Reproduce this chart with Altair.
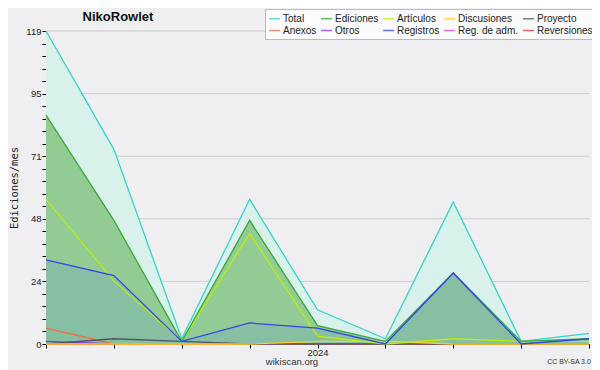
import altair as alt
import pandas as pd

months = [0, 1, 2, 3, 4, 5, 6, 7, 8]
series_names = ["Total", "Ediciones", "Artículos", "Discusiones", "Proyecto",
                "Anexos", "Otros", "Registros", "Reg. de adm.", "Reversiones"]
series_colors = ["#35d3c8", "#3aa83a", "#b8ee10", "#ffcc22", "#555560",
                 "#ee7040", "#8833ee", "#3344ee", "#dd44dd", "#ee3333"]

total = [119, 74, 2, 55, 13, 2, 54, 1, 4]
ediciones = [87, 47, 1, 47, 7, 1, 27, 1, 2]
articulos = [55, 24, 1, 42, 3, 0, 2, 1, 1]
discusiones = [0, 0, 0, 0, 1, 1, 0, 0, 0]
proyecto = [0, 2, 1, 0, 0, 0, 0, 0, 0]
anexos = [6, 0, 0, 0, 0, 0, 0, 0, 0]
otros = [1, 0, 0, 0, 0, 0, 0, 0, 0]
registros = [32, 26, 1, 8, 6, 0, 27, 0, 2]
reg_adm = [0, 0, 0, 0, 0, 0, 0, 0, 0]
reversiones = [0, 0, 0, 0, 0, 0, 0, 0, 0]

values_by_series = [total, ediciones, articulos, discusiones, proyecto,
                    anexos, otros, registros, reg_adm, reversiones]

y_max = 119
major_ticks = [0, 23.8, 47.6, 71.4, 95.2, 119]
minor_ticks = [round(y_max * k / 25, 3) for k in range(26)]

draw_order = ["Reversiones", "Reg. de adm.", "Otros", "Anexos", "Proyecto", "Discusiones",
              "Total", "Artículos", "Ediciones", "Registros"]

# legend is filled column by column (2 rows x 5 columns)
legend_order = []
for c in range(5):
    legend_order.append(series_names[c])
    legend_order.append(series_names[c + 5])
legend_colors = [series_colors[series_names.index(n)] for n in legend_order]

rows = []
for name, vals in zip(series_names, values_by_series):
    for m, v in zip(months, vals):
        rows.append({"serie": name, "mes": m, "valor": v,
                     "ord": draw_order.index(name)})
df = pd.DataFrame(rows).sort_values(["ord", "mes"]).reset_index(drop=True)

xscale = alt.Scale(domain=[0, 8], nice=False, zero=False)
yscale = alt.Scale(domain=[0, y_max], nice=False)

x_axis = alt.Axis(values=months, labelExpr="datum.value == 4 ? '2024' : ''",
                  tickSize=4, tickColor="#000000", domainColor="#000000",
                  labelFontSize=9.5, labelColor="#222222", labelPadding=-1,
                  labelFont="Liberation Sans", grid=False, title=None)
y_axis = alt.Axis(values=minor_ticks,
                  labelExpr="round(datum.value*25/119) % 5 == 0 ? format(round(datum.value), 'd') : ''",
                  tickSize=4, tickColor="#000000", domainColor="#000000",
                  labelFontSize=9.5, labelColor="#222222", labelPadding=1,
                  labelFont="Liberation Sans", grid=False, title=None)

base = alt.Chart(df)

grid = alt.Chart(pd.DataFrame({"g": major_ticks[1:]})).mark_rule(
    color="#cccccc", strokeWidth=1).encode(
    y=alt.Y("g:Q", scale=yscale, axis=y_axis),
    x=alt.value(0), x2=alt.value(543))

def area_for(name, fill):
    return base.transform_filter(alt.datum.serie == name).mark_area(
        color=fill, opacity=1, interpolate="linear").encode(
        x=alt.X("mes:Q", scale=xscale, axis=x_axis),
        y=alt.Y("valor:Q", scale=yscale, axis=y_axis))

area_total = area_for("Total", "#d8f1ea")
area_edic = area_for("Ediciones", "#93cb95")
area_reg = area_for("Registros", "#87bfa3")

lines = base.mark_line(strokeWidth=1.3, interpolate="linear").encode(
    x=alt.X("mes:Q", scale=xscale, axis=x_axis),
    y=alt.Y("valor:Q", scale=yscale, axis=y_axis),
    color=alt.Color("serie:N",
                    scale=alt.Scale(domain=legend_order, range=legend_colors),
                    title=None,
                    legend=alt.Legend(orient="none", legendX=219, legendY=-22,
                                      columns=5, gridAlign="each",
                                      symbolType="stroke",
                                      symbolStrokeWidth=1.5, symbolSize=120,
                                      symbolOpacity=0.75,
                                      fillColor="#fbfbfb", strokeColor="#bbbbbb",
                                      padding=3, labelFontSize=10,
                                      labelFont="Liberation Sans",
                                      labelColor="#222222", rowPadding=-1,
                                      columnPadding=1, labelOffset=2)),
    detail="serie:N",
    order="mes:Q")

def text_layer(txt, x, y, size, bold=False, color="#222222", font="Liberation Sans", angle=0):
    return alt.Chart(pd.DataFrame({"t": [txt]})).mark_text(
        fontSize=size, fontWeight="bold" if bold else "normal", color=color,
        font=font, angle=angle, align="center", baseline="middle").encode(
        text="t:N", x=alt.value(x), y=alt.value(y))

title = text_layer("NikoRowlet", 72, -14, 13, bold=True, color="#111111")
ytitle = text_layer("Ediciones/mes", -31, 157, 10.5, font="DejaVu Sans Mono", angle=270)
site = text_layer("wikiscan.org", 246, 331, 9.5, color="#333333")
lic = text_layer("CC BY-SA 3.0", 523, 331, 7, color="#333333")

chart = alt.layer(grid, area_total, area_edic, area_reg, lines,
                  title, ytitle, site, lic).properties(
    width=543, height=313,
    autosize=alt.AutoSizeParams(type="none"),
    padding={"left": 38, "top": 23, "right": 3, "bottom": 26},
    background="#efeff1",
).configure_view(stroke=None)

chart.save("out.html", embed_options={"renderer": "svg", "actions": False})
